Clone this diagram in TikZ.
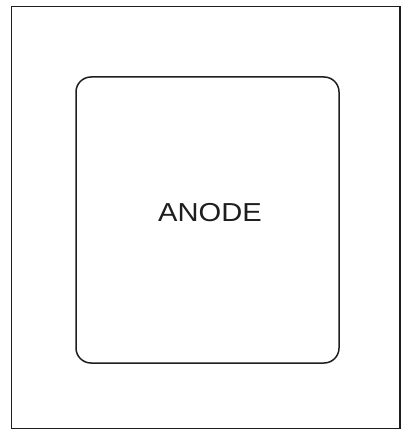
\documentclass[tikz,border=0pt]{standalone}
\usepackage{fontspec}
\setmainfont{Liberation Sans}
\usetikzlibrary{positioning}
\definecolor{inkdark}{HTML}{1E1E1E}

\begin{document}
\begin{tikzpicture}[x=1pt, y=-1pt, line width=1.5pt, inkdark]
          \useasboundingbox (0,0) rectangle (401,430);
          % outer frame
          \draw (11.5,6.5) rectangle (400,428.5);
          % anode plate
          \node[draw, rounded corners=15pt, minimum width=263pt, minimum height=286pt,
                inner sep=0pt] (plate) at (207.5,220) {};
          \node[font=\fontsize{26}{28}\selectfont, xscale=1.12, inner sep=0pt]
                (anode) at (210,212.5) {ANODE};
        \end{tikzpicture}
\end{document}
